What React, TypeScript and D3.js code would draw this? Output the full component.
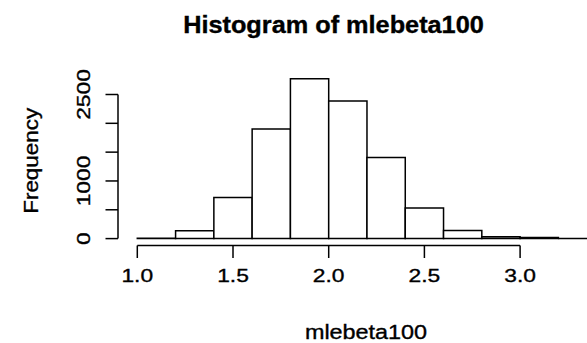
import React from "react";
import * as d3 from "d3";

// Histogram bins of mlebeta100 (width 0.2) and their counts
const binStarts = [1.0, 1.2, 1.4, 1.6, 1.8, 2.0, 2.2, 2.4, 2.6, 2.8, 3.0, 3.2];
const binWidth = 0.2;
const counts = [4, 135, 713, 1901, 2774, 2387, 1408, 530, 141, 30, 20, 0];

const xTicks = [1.0, 1.5, 2.0, 2.5, 3.0];
const yTicks = [0, 500, 1000, 1500, 2000, 2500];
const yTickLabels = [0, 1000, 2500];

const title = "Histogram of mlebeta100";
const xLabel = "mlebeta100";
const yLabel = "Frequency";

const W = 587;
const H = 343;
const FONT = "'Liberation Sans', Arial, Helvetica, sans-serif";

export default function App() {
  const x = d3.scaleLinear().domain([1.0, 3.0]).range([137.3, 520.1]);
  const y = d3.scaleLinear().domain([0, 2500]).range([238.6, 94.5]);

  const axisY = 245.5;
  const axisX = 118;
  const tick = 12.5;
  const sw = 1.5;

  // closed outline per bin, so empty bins still show their base line
  const barPath = (b: number, c: number) => {
    const p = d3.path();
    p.moveTo(x(b), y(0));
    p.lineTo(x(b), y(c));
    p.lineTo(x(b + binWidth), y(c));
    p.lineTo(x(b + binWidth), y(0));
    p.closePath();
    return p.toString();
  };

  const textStroke = { stroke: "#000", strokeWidth: 0.35 };

  return (
    <svg
      width={W}
      height={H}
      viewBox={`0 0 ${W} ${H}`}
      style={{ position: "absolute", left: 0, top: 0, background: "#fff" }}
      fontFamily={FONT}
    >
      <rect x={0} y={0} width={W} height={H} fill="#fff" />

      {/* bars */}
      <g fill="#fff" stroke="#000" strokeWidth={sw} strokeLinejoin="miter">
        {binStarts.map((b, i) => (
          <path key={b} d={barPath(b, counts[i])} />
        ))}
      </g>

      {/* x axis */}
      <g stroke="#000" strokeWidth={sw} fill="none">
        <line x1={x(xTicks[0])} x2={x(xTicks[xTicks.length - 1])} y1={axisY} y2={axisY} />
        {xTicks.map((t) => (
          <line key={t} x1={x(t)} x2={x(t)} y1={axisY} y2={axisY + tick} />
        ))}
      </g>
      <g fontSize={19} textAnchor="middle" fill="#000" {...textStroke}>
        {xTicks.map((t) => (
          <text key={t} x={x(t)} y={282.5} transform={`translate(${x(t)},0) scale(1.2,1) translate(${-x(t)},0)`}>
            {d3.format(".1f")(t)}
          </text>
        ))}
      </g>

      {/* y axis */}
      <g stroke="#000" strokeWidth={sw} fill="none">
        <line x1={axisX} x2={axisX} y1={y(yTicks[0])} y2={y(yTicks[yTicks.length - 1])} />
        {yTicks.map((t) => (
          <line key={t} x1={axisX - tick} x2={axisX} y1={y(t)} y2={y(t)} />
        ))}
      </g>
      <g fontSize={19} textAnchor="middle" fill="#000" {...textStroke}>
        {yTickLabels.map((t) => (
          <text key={t} transform={`translate(90,${y(t)}) rotate(-90) scale(1.2,1)`}>
            {t}
          </text>
        ))}
      </g>

      {/* titles */}
      <text
        x={333.5}
        y={33}
        fontSize={23}
        fontWeight="bold"
        textAnchor="middle"
        transform="translate(333.5,0) scale(1.1,1) translate(-333.5,0)"
        {...textStroke}
      >
        {title}
      </text>
      <text
        x={366}
        y={339}
        fontSize={19.5}
        textAnchor="middle"
        transform="translate(366,0) scale(1.2,1) translate(-366,0)"
        {...textStroke}
      >
        {xLabel}
      </text>
      <text
        fontSize={19.5}
        textAnchor="middle"
        transform={`translate(38,160.8) rotate(-90) scale(1.15,1)`}
        {...textStroke}
      >
        {yLabel}
      </text>
    </svg>
  );
}
